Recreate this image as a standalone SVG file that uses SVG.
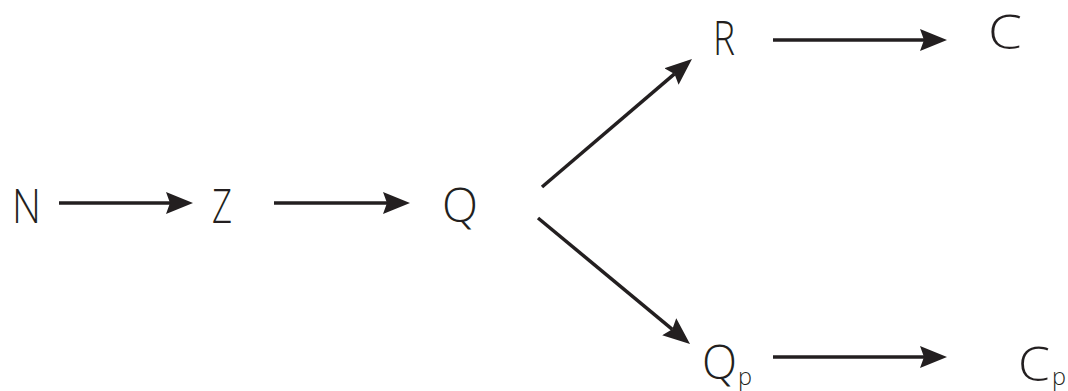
<svg xmlns="http://www.w3.org/2000/svg" width="1068" height="391" viewBox="0 0 1068 391">
  <style>
    .lbl { font-family: "Open Sans", "Liberation Sans", sans-serif; font-weight: 300; font-size: 47px; fill: #231f20; }
    .sub { font-family: "Open Sans", "Liberation Sans", sans-serif; font-weight: 300; font-size: 24px; fill: #231f20; }
    .edge { stroke: #231f20; stroke-width: 3.5; fill: none; marker-end: url(#head); }
  </style>
  <defs>
    <marker id="head" markerUnits="userSpaceOnUse" markerWidth="28" markerHeight="24" viewBox="0 0 28 24" refX="4" refY="12" orient="auto">
      <path d="M0,1 L27,12 L0,23 L4,12 Z" fill="#231f20"/>
    </marker>
  </defs>

  <g id="connectors">
    <line class="edge" x1="59" y1="203" x2="170" y2="203"/>
    <line class="edge" x1="274" y1="203" x2="387" y2="203"/>
    <line class="edge" x1="542" y1="187" x2="674.5" y2="73.9"/>
    <line class="edge" x1="538" y1="218" x2="672.3" y2="329.3"/>
    <line class="edge" x1="773" y1="40" x2="924" y2="40"/>
    <line class="edge" x1="773" y1="357" x2="924" y2="357"/>
  </g>

  <g id="node-N"><text class="lbl" x="12" y="223" textLength="29" lengthAdjust="spacingAndGlyphs">N</text></g>
  <g id="node-Z"><text class="lbl" x="212" y="223" textLength="20" lengthAdjust="spacingAndGlyphs">Z</text></g>
  <g id="node-Q"><text class="lbl" x="442" y="222" textLength="36" lengthAdjust="spacingAndGlyphs">Q</text></g>
  <g id="node-R"><text class="lbl" x="713" y="55" textLength="22" lengthAdjust="spacingAndGlyphs">R</text></g>
  <g id="node-C"><text class="lbl" x="988" y="49" textLength="34" lengthAdjust="spacingAndGlyphs">C</text></g>
  <g id="node-Qp">
    <text class="lbl" x="702" y="379" textLength="35" lengthAdjust="spacingAndGlyphs">Q</text>
    <text class="sub" x="738" y="385" textLength="14" lengthAdjust="spacingAndGlyphs">p</text>
  </g>
  <g id="node-Cp">
    <text class="lbl" x="1018" y="381" textLength="32" lengthAdjust="spacingAndGlyphs">C</text>
    <text class="sub" x="1052" y="385" textLength="14" lengthAdjust="spacingAndGlyphs">p</text>
  </g>
</svg>
